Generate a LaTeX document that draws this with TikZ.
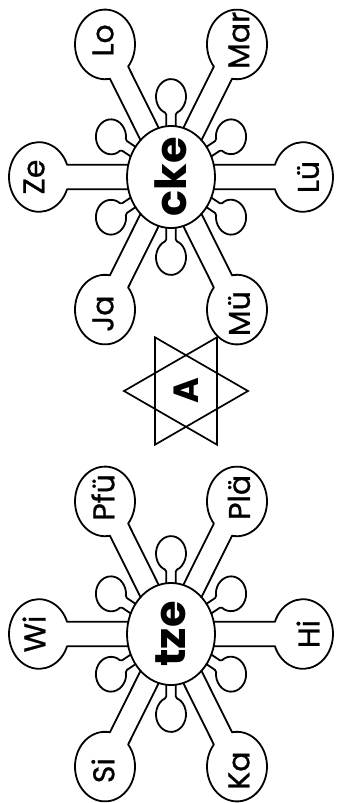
\documentclass[tikz,border=0pt]{standalone}
\usepackage{fontspec}
\setmainfont{Poppins}
\newfontfamily\lblfont{Poppins}[FakeBold=0.8]
\tikzset{
  outline/.style={line width=1.8pt, line join=round, line cap=round},
  starline/.style={line width=1.7pt, line join=miter},
  lbl/.style={rotate=90, font=\lblfont\fontsize{30}{30}\selectfont, inner sep=0pt},
  hub/.style={rotate=90, font=\fontsize{43}{43}\selectfont\bfseries, inner sep=0pt},
  starlbl/.style={rotate=90, font=\fontsize{35}{35}\selectfont\bfseries, inner sep=0pt},
}
\newcommand\mypetal[2]{%
  \begin{scope}[rotate=#1]
    \draw[outline] (42.7,10.5) -- (103.9,10.5)
      arc[start angle=159.5, end angle=-159.5, radius=30] -- (42.7,-10.5);
  \end{scope}
  \begin{scope}[rotate=#2]
    \draw[outline, rounded corners=1.5pt] (43.8,4.8) -- (55.2,4.8)
      arc[start angle=161.3, end angle=-161.3, radius=15] -- (43.8,-4.8);
  \end{scope}}
\newcommand\myflower[9]{%
  \begin{scope}[shift={#1}, yscale=1.16]
    \draw[outline] (0,0) circle[radius=44];
    \node[hub] (#2) at (0,0) {#3};
    \mypetal{0}{30}\mypetal{60}{90}\mypetal{120}{150}
    \mypetal{180}{210}\mypetal{240}{270}\mypetal{300}{330}
    \node[lbl] (#2-0) at (0:137) {#4};
    \node[lbl] (#2-60) at (60:136) {#5};
    \node[lbl] (#2-120) at (120:136) {#6};
    \node[lbl] (#2-180) at (180:137) {#7};
    \node[lbl] (#2-240) at (240:136) {#8};
    \node[lbl] (#2-300) at (300:136) {#9};
  \end{scope}}
\begin{document}
\begin{tikzpicture}[x=1pt, y=1pt]
  \useasboundingbox (0,0) rectangle (337,-803);
  % top flower
  \myflower{(171,-177)}{top}{cke}{Lü}{Mar}{Lo}{Ze}{Ja}{Mü}
  % bottom flower
  \myflower{(171,-634)}{bot}{tze}{Hi}{Plä}{Pfü}{Wi}{Si}{Ka}
  % star
  \begin{scope}[shift={(186,-391)}]
    \draw[starline] (0:62) -- (120:62) -- (240:62) -- cycle;
    \draw[starline] (60:62) -- (180:62) -- (300:62) -- cycle;
    \node[starlbl] (star) at (0,0) {A};
  \end{scope}
\end{tikzpicture}
\end{document}
